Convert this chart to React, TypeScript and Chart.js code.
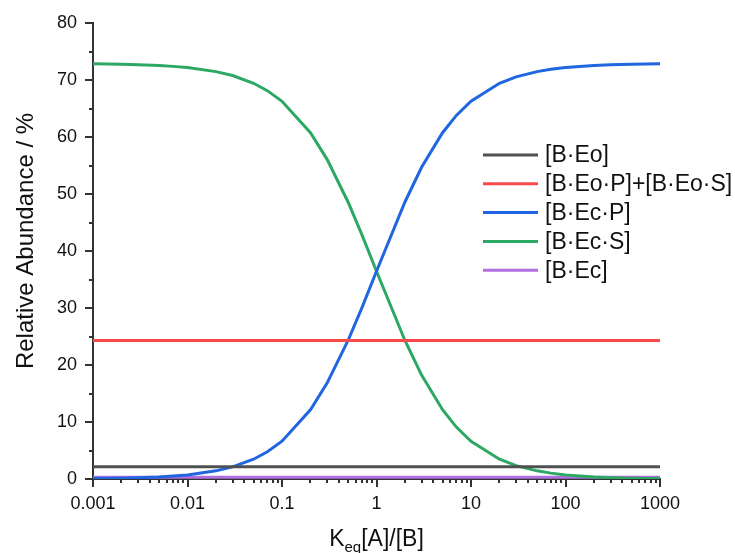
import React, { useEffect, useRef } from "react";
import { Chart, registerables } from "chart.js";

Chart.register(...registerables);

// ---- data ----
const xValues = [
  0.001, 0.002, 0.003, 0.005, 0.007,
  0.01, 0.02, 0.03, 0.05, 0.07,
  0.1, 0.2, 0.3, 0.5, 0.7,
  1, 2, 3, 5, 7,
  10, 20, 30, 50, 70,
  100, 200, 300, 500, 700,
  1000,
];
const seriesBEo = [
  2.15, 2.15, 2.15, 2.15, 2.15, 2.15, 2.15, 2.15, 2.15, 2.15, 2.15, 2.15, 2.15, 2.15, 2.15, 2.15,
  2.15, 2.15, 2.15, 2.15, 2.15, 2.15, 2.15, 2.15, 2.15, 2.15, 2.15, 2.15, 2.15, 2.15, 2.15,
];
const seriesBEoPS = [
  24.3, 24.3, 24.3, 24.3, 24.3, 24.3, 24.3, 24.3, 24.3, 24.3, 24.3, 24.3, 24.3, 24.3, 24.3, 24.3,
  24.3, 24.3, 24.3, 24.3, 24.3, 24.3, 24.3, 24.3, 24.3, 24.3, 24.3, 24.3, 24.3, 24.3, 24.3,
];
const seriesBEcP = [
  0.07, 0.15, 0.22, 0.36, 0.51,
  0.72, 1.43, 2.12, 3.47, 4.77,
  6.63, 12.15, 16.82, 24.3, 30.02,
  36.45, 48.6, 54.68, 60.75, 63.79,
  66.27, 69.43, 70.55, 71.47, 71.88,
  72.18, 72.54, 72.66, 72.75, 72.8,
  72.83,
];
const seriesBEcS = [
  72.83, 72.75, 72.68, 72.54, 72.39,
  72.18, 71.47, 70.78, 69.43, 68.13,
  66.27, 60.75, 56.08, 48.6, 42.88,
  36.45, 24.3, 18.23, 12.15, 9.11,
  6.63, 3.47, 2.35, 1.43, 1.03,
  0.72, 0.36, 0.24, 0.15, 0.1,
  0.07,
];
const seriesBEc = [
  0.3, 0.3, 0.3, 0.3, 0.3, 0.3, 0.3, 0.3, 0.3, 0.3, 0.3, 0.3, 0.3, 0.3, 0.3, 0.3,
  0.3, 0.3, 0.3, 0.3, 0.3, 0.3, 0.3, 0.3, 0.3, 0.3, 0.3, 0.3, 0.3, 0.3, 0.3,
];

const seriesNames = ["[B·Eo]", "[B·Eo·P]+[B·Eo·S]", "[B·Ec·P]", "[B·Ec·S]", "[B·Ec]"];
const seriesColors = ["#505050", "#f84a4a", "#1f66e0", "#2ca864", "#b070e0"];

const xMajorValues = [0.001, 0.01, 0.1, 1, 10, 100, 1000];
const xTickLabels = ["0.001", "0.01", "0.1", "1", "10", "100", "1000"];
const xDecades = [0.001, 0.01, 0.1, 1, 10, 100];
const xMinorSteps = [1, 2, 3, 4, 5, 6, 7, 8, 9];
const yTickValues = [0, 5, 10, 15, 20, 25, 30, 35, 40, 45, 50, 55, 60, 65, 70, 75, 80];
const yMajorValues = [0, 10, 20, 30, 40, 50, 60, 70, 80];

const FONT = '"Liberation Sans", Arial, Helvetica, sans-serif';

const xTickValues: number[] = [];
xDecades.forEach((d) => xMinorSteps.forEach((s) => xTickValues.push(d * s)));
xTickValues.push(1000);

const isXMajor = (v: number) =>
  xMajorValues.findIndex((m) => Math.abs(Math.log10(v) - Math.log10(m)) < 1e-6);

const decorPlugin = {
  id: "decor",
  afterDraw(chart: any) {
    const ctx = chart.ctx;
    const xs = chart.scales.x;
    const ys = chart.scales.y;
    const area = chart.chartArea;
    ctx.save();
    ctx.strokeStyle = "#333";
    ctx.lineWidth = 2;
    // x ticks
    xTickValues.forEach((v) => {
      const px = Math.round(xs.getPixelForValue(v));
      const len = isXMajor(v) >= 0 ? 8 : 4;
      ctx.beginPath();
      ctx.moveTo(px, area.bottom);
      ctx.lineTo(px, area.bottom + len);
      ctx.stroke();
    });
    // y ticks
    yTickValues.forEach((v) => {
      const py = Math.round(ys.getPixelForValue(v));
      const len = yMajorValues.includes(v) ? 8 : 4;
      ctx.beginPath();
      ctx.moveTo(area.left, py);
      ctx.lineTo(area.left - len, py);
      ctx.stroke();
    });

    // legend
    ctx.font = `23px ${FONT}`;
    ctx.textBaseline = "middle";
    ctx.textAlign = "left";
    seriesNames.forEach((name, i) => {
      const y = 155 + i * 28.8;
      ctx.strokeStyle = seriesColors[i];
      ctx.lineWidth = 3;
      ctx.beginPath();
      ctx.moveTo(483, y);
      ctx.lineTo(538, y);
      ctx.stroke();
      ctx.fillStyle = "#111";
      ctx.fillText(name, 545, y + 1);
    });

    // x title with subscript
    ctx.fillStyle = "#111";
    ctx.textBaseline = "alphabetic";
    const big = `23px ${FONT}`;
    const small = `15px ${FONT}`;
    ctx.font = big;
    const wK = ctx.measureText("K").width;
    const wRest = ctx.measureText("[A]/[B]").width;
    ctx.font = small;
    const wSub = ctx.measureText("eq").width;
    const total = wK + wSub + wRest;
    let x0 = (area.left + area.right) / 2 - total / 2;
    const base = 546;
    ctx.font = big;
    ctx.fillText("K", x0, base);
    x0 += wK;
    ctx.font = small;
    ctx.fillText("eq", x0, base + 6);
    x0 += wSub;
    ctx.font = big;
    ctx.fillText("[A]/[B]", x0, base);

    // y title
    ctx.save();
    ctx.translate(33, 241);
    ctx.rotate(-Math.PI / 2);
    ctx.textAlign = "center";
    ctx.font = `24px ${FONT}`;
    ctx.fillText("Relative Abundance / %", 0, 0);
    ctx.restore();

    ctx.restore();
  },
};

export default function App() {
  const ref = useRef<HTMLCanvasElement | null>(null);
  useEffect(() => {
    if (!ref.current) return;
    const allSeries = [seriesBEo, seriesBEoPS, seriesBEcP, seriesBEcS, seriesBEc];
    const chart = new Chart(ref.current, {
      type: "line",
      data: {
        datasets: allSeries.map((s, i) => ({
          label: seriesNames[i],
          data: s.map((y, j) => ({ x: xValues[j], y })),
          borderColor: seriesColors[i],
          backgroundColor: seriesColors[i],
          borderWidth: 3,
          pointRadius: 0,
          tension: 0,
          fill: false,
        })),
      },
      options: {
        responsive: false,
        animation: false,
        devicePixelRatio: 1,
        layout: { padding: { top: 23, right: 75, left: 0, bottom: 0 } },
        plugins: {
          legend: { display: false },
          tooltip: { enabled: false },
          title: { display: false },
        },
        scales: {
          x: {
            type: "logarithmic",
            min: 0.001,
            max: 1000,
            position: "bottom",
            afterBuildTicks: (scale: any) => {
              scale.ticks = xTickValues.map((v) => ({ value: v, major: false }));
            },
            afterFit: (scale: any) => {
              scale.height = 74;
            },
            grid: {
              display: true,
              drawOnChartArea: false,
              drawTicks: true,
              tickLength: 8,
              color: "rgba(0,0,0,0)",
            },
            border: { display: true, color: "#333", width: 2 },
            ticks: {
              autoSkip: false,
              maxRotation: 0,
              minRotation: 0,
              padding: 6,
              color: "#111",
              font: { size: 18, family: FONT },
              callback: (v: any) => {
                const idx = isXMajor(Number(v));
                return idx >= 0 ? xTickLabels[idx] : "";
              },
            },
          },
          y: {
            type: "linear",
            min: 0,
            max: 80,
            afterBuildTicks: (scale: any) => {
              scale.ticks = yTickValues.map((v) => ({ value: v }));
            },
            afterFit: (scale: any) => {
              scale.width = 93;
            },
            grid: {
              display: true,
              drawOnChartArea: false,
              drawTicks: true,
              tickLength: 8,
              color: "rgba(0,0,0,0)",
            },
            border: { display: true, color: "#333", width: 2 },
            ticks: {
              autoSkip: false,
              padding: 8,
              color: "#111",
              font: { size: 18, family: FONT },
              callback: (v: any) => (yMajorValues.includes(Number(v)) ? String(v) : ""),
            },
          },
        },
      },
      plugins: [decorPlugin],
    });
    return () => chart.destroy();
  }, []);

  return (
    <div style={{ position: "fixed", left: 0, top: 0, width: 735, height: 553, background: "#fff" }}>
      <canvas ref={ref} width={735} height={553} style={{ width: 735, height: 553, display: "block" }} />
    </div>
  );
}
